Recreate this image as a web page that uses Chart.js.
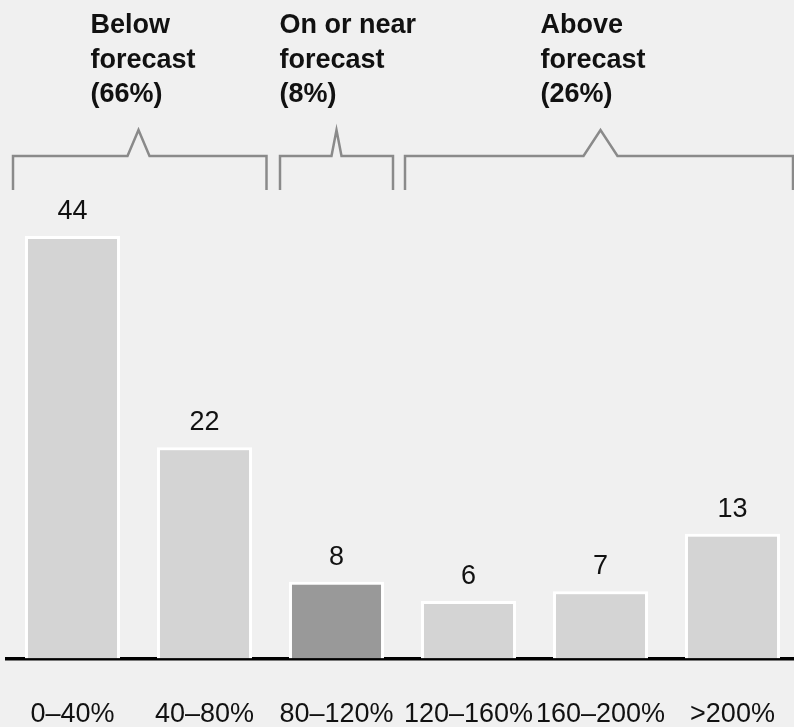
<!DOCTYPE html>
<html>
<head>
<meta charset="utf-8">
<script src="https://cdn.jsdelivr.net/npm/chart.js@4/dist/chart.umd.min.js"></script>
<style>
  html, body { margin: 0; padding: 0; background: #f0f0f0; overflow: hidden; }
  #wrap { width: 800px; height: 727px; position: relative; }
</style>
</head>
<body>
<div id="wrap"><canvas id="c"></canvas></div>
<script>
// Share of projects by outcome relative to forecast
const categories = ['0–40%', '40–80%', '80–120%', '120–160%', '160–200%', '>200%'];
const values = [44, 22, 8, 6, 7, 13];
const barColors = ['#d4d4d4', '#d4d4d4', '#999999', '#d4d4d4', '#d4d4d4', '#d4d4d4'];

// Bracketed groups over the bars (first and last category index of each)
const groupNames = ['Below', 'On or near', 'Above'];
const groupFirst = [0, 2, 3];
const groupLast = [1, 2, 5];

// Drawing geometry for the brackets and their headings
const bracketStyle = {
  color: '#8a8a8a', width: 2.5,
  apexY: 130, barY: 156, footY: 190,
  insetL: [6.5, 9.5, 2.5], insetR: [4, 9.5, 5],
  peakHalf: [11, 5, 17],
  headerDx: [-48, -57, -60],
  headerBaselines: [33, 68, 102]
};

const groupPlugin = {
  id: 'groups',
  afterDraw(chart) {
    const ctx = chart.ctx;
    const xs = chart.scales.x;
    const half = (xs.getPixelForValue(1) - xs.getPixelForValue(0)) / 2;
    ctx.save();
    groupNames.forEach((name, g) => {
      const left = xs.getPixelForValue(groupFirst[g]) - half + bracketStyle.insetL[g];
      const right = Math.min(xs.getPixelForValue(groupLast[g]) + half - bracketStyle.insetR[g], 793);
      const apex = (xs.getPixelForValue(groupFirst[g]) + xs.getPixelForValue(groupLast[g])) / 2;
      const ph = bracketStyle.peakHalf[g];
      ctx.strokeStyle = bracketStyle.color;
      ctx.lineWidth = bracketStyle.width;
      ctx.lineJoin = 'miter';
      ctx.beginPath();
      ctx.moveTo(left, bracketStyle.footY);
      ctx.lineTo(left, bracketStyle.barY);
      ctx.lineTo(apex - ph, bracketStyle.barY);
      ctx.lineTo(apex, bracketStyle.apexY);
      ctx.lineTo(apex + ph, bracketStyle.barY);
      ctx.lineTo(right, bracketStyle.barY);
      ctx.lineTo(right, bracketStyle.footY);
      ctx.stroke();

      // group share is the sum of its bars
      let share = 0;
      for (let i = groupFirst[g]; i <= groupLast[g]; i++) share += values[i];
      const lines = [name, 'forecast', '(' + share + '%)'];
      ctx.fillStyle = '#111111';
      ctx.font = 'bold 27px "Liberation Sans", Arial, sans-serif';
      ctx.textAlign = 'left';
      ctx.textBaseline = 'alphabetic';
      lines.forEach((t, k) => ctx.fillText(t, apex + bracketStyle.headerDx[g], bracketStyle.headerBaselines[k]));
    });
    ctx.restore();
  },
  afterDatasetsDraw(chart) {
    const ctx = chart.ctx;
    const meta = chart.getDatasetMeta(0);
    ctx.save();
    ctx.fillStyle = '#111111';
    ctx.font = '27px "Liberation Sans", Arial, sans-serif';
    ctx.textAlign = 'center';
    ctx.textBaseline = 'alphabetic';
    meta.data.forEach((bar, i) => {
      ctx.fillText(String(values[i]), bar.x, bar.y - 17);
    });
    ctx.restore();
  }
};

new Chart(document.getElementById('c'), {
  type: 'bar',
  data: {
    labels: categories,
    datasets: [{
      data: values,
      backgroundColor: barColors,
      borderColor: '#ffffff',
      borderWidth: 3,
      borderSkipped: 'start',
      barPercentage: 0.72,
      categoryPercentage: 1.0
    }]
  },
  options: {
    responsive: true,
    maintainAspectRatio: false,
    animation: false,
    events: [],
    layout: { padding: { left: 6.5, right: 1.5, top: 82.5, bottom: 0 } },
    plugins: { legend: { display: false }, tooltip: { enabled: false } },
    scales: {
      x: {
        grid: {
          display: true,
          color: 'rgba(0,0,0,0)',
          drawOnChartArea: false,
          drawTicks: true,
          tickLength: 40
        },
        border: { display: true, color: '#000000', width: 3.5 },
        ticks: {
          color: '#111111',
          font: { family: '"Liberation Sans", Arial, sans-serif', size: 27 },
          padding: 0,
          maxRotation: 0,
          minRotation: 0,
          autoSkip: false
        },
        afterFit(scale) { scale.height = 68.5; }
      },
      y: {
        display: false,
        min: 0,
        max: 60
      }
    }
  },
  plugins: [groupPlugin]
});
</script>
</body>
</html>
